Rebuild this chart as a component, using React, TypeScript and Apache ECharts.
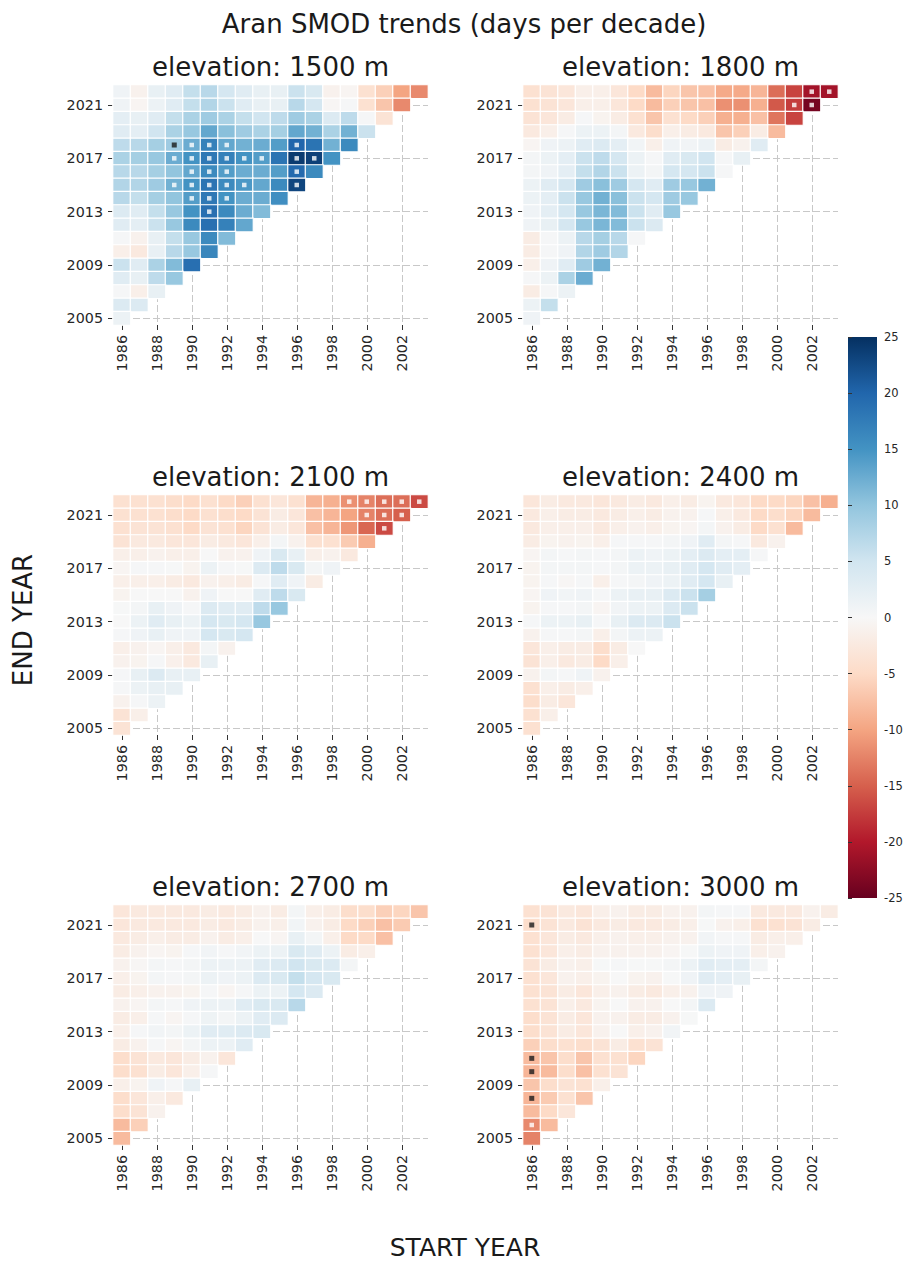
import React, { useEffect, useRef } from 'react';
import * as echarts from 'echarts';

const START_YEARS = ['1986', '1987', '1988', '1989', '1990', '1991', '1992', '1993', '1994', '1995', '1996', '1997', '1998', '1999', '2000', '2001', '2002', '2003'];
const END_YEARS = ['2005', '2006', '2007', '2008', '2009', '2010', '2011', '2012', '2013', '2014', '2015', '2016', '2017', '2018', '2019', '2020', '2021', '2022'];
const ELEVATIONS = ['1500', '1800', '2100', '2400', '2700', '3000'];

// Rows: end year 2022 (top) down to 2005; each row starts at 1986
const smod1500 = [
  [1, -1, 2, 3, 6, 7, 4.5, 3, 2, 2, 5.5, 4, -1, -0.5, -4, -6, -10, -12],
  [1, -0.5, 1.5, 3, 6, 7.5, 5.5, 3, 2, 2, 7, 4.5, -0.3, 0.2, -4, -7, -12],
  [2.5, 2, 3, 6, 8, 9, 8, 6, 5, 6.5, 9, 8, 3.5, 6.5, 0.3, -3.5],
  [3, 2.5, 5, 8, 9.5, 13, 10.5, 9, 8, 8.5, 13, 12, 8, 12, 5.5],
  [6.5, 7, 8.5, 9, 12.5, 17, 13, 12, 12.5, 14, 20, 18.5, 12, 16],
  [8, 8.5, 9.5, 12.5, 15, 18, 17, 15, 14, 18.5, 24, 23.5, 15],
  [7, 7, 8.5, 10, 13, 16, 14, 12.5, 12.5, 14, 19.5, 16],
  [7.5, 7.5, 9, 12, 15, 18.5, 16, 14.5, 13, 16, 23],
  [7, 6, 8.5, 10, 14, 18, 15, 12.5, 12.5, 15.5],
  [3.5, 3, 6, 9.5, 15, 19, 16, 12.5, 11],
  [3, 2.5, 5.5, 9.5, 16, 19, 17, 13],
  [0.3, -1, 2, 6, 9.5, 16, 11],
  [-1.5, -2.5, 2, 7, 9.5, 16.5],
  [5.5, 3, 8, 11, 19],
  [3, 2, 6.5, 9.5],
  [0.3, -1.5, 2],
  [3.5, 3.5],
  [1.5],
];

const smod1800 = [
  [-4, -3.5, -3, -1.5, -1.5, -3, -5, -8, -5.5, -7, -7.5, -9.5, -9.5, -8.5, -14, -17, -21, -21],
  [-4, -3.5, -3, -1.5, -1.5, -3, -5, -8, -6, -7, -7.5, -11.5, -11.5, -9, -15.5, -17.5, -24],
  [-3.5, -3, -2, 0.3, -0.8, -2, -4, -7, -4, -5, -6, -9, -9, -7.5, -13.5, -17],
  [-2.5, -1.5, 0.3, 1.5, 1.5, 0.5, -2.5, -4.5, -1.5, -2, -2.5, -7, -6, -2, -8],
  [-0.5, 1, 1.5, 3, 3.5, 2.5, 0.8, -1.5, 1, 0.8, 1.5, -2, -1, 3],
  [0.5, 1.5, 2.5, 5.5, 6.5, 4.5, 1.5, 0.3, 3, 4, 5, 0.2, 2],
  [0.5, 1, 2.5, 6, 7.5, 5.5, 1.5, 0.5, 4.5, 4.5, 5.5, 0.2],
  [1.5, 3, 4.5, 9, 10.5, 9, 4.5, 3, 9, 9.5, 12],
  [1.5, 2.5, 5.5, 9.5, 12, 10.5, 5.5, 4.5, 9, 9.5],
  [1, 2.5, 4.5, 9.5, 11.5, 11, 5.5, 3, 9.5],
  [1, 2, 4.5, 9.5, 11.5, 11, 5.5, 3.5],
  [-2, 0.3, 1.5, 7, 8.5, 7, 0.3],
  [-2, 0.3, 1, 7.5, 9, 7.5],
  [-1.5, 1, 3, 9, 12],
  [0.2, 1.5, 8, 12.5],
  [-2, 0.2, 1.5],
  [1.5, 6],
  [1],
];

const smod2100 = [
  [-4, -4, -4, -4.5, -5, -4, -5, -6, -4, -3, -4, -8.5, -9, -11.5, -12.5, -14, -14, -16.5],
  [-4, -4, -4, -4.5, -5, -4, -4.5, -5, -3.5, -2, -3, -7.5, -8.5, -10, -12.5, -14, -15],
  [-4, -3.5, -3.5, -4, -5, -3.5, -4, -5.5, -3.5, -2, -3, -7.5, -8.5, -11, -14.5, -16.5],
  [-3.5, -2.5, -2.5, -3, -3, -2, -2.5, -3, -1.5, 0.5, -1, -4, -4, -6.5, -9],
  [-1.5, -1.5, -1, -1.5, -1.5, 0, -1, -1, 1, 4, 2, -1.5, -1, -2.5],
  [-0.5, 0.2, 0.2, 0.1, -0.8, 1.5, 0.2, 0.1, 3.5, 6.5, 4, 0.5, 1],
  [-1.5, -1.5, -1.5, -2, -2.5, -1, -1.5, -2, 0.2, 3, 1, -2],
  [-0.8, 0, 0, 0, -1, 1, 0, 0, 3, 6.5, 4],
  [0.1, 0.5, 2, 1, 0.2, 3.5, 3, 3, 6.5, 9.5],
  [0, 1.5, 3, 2, 1.5, 4.5, 4, 4.5, 9.5],
  [0.2, 1, 2, 1, 1, 4.5, 4, 4.5],
  [-1.5, -1, -0.5, -1.5, -2.5, 0.5, -1],
  [-1, -0.8, 0.2, -1.3, -2.5, 2],
  [0.2, 2, 3.5, 2, 2],
  [0.3, 1.5, 2, 2],
  [-1, 0.3, 1.5],
  [-3.5, -1.5],
  [-3.5],
];

const smod2400 = [
  [-3, -2, -2.5, -2.5, -3, -2.5, -2, -2.5, -1.5, -2, -0.8, -2.5, -3, -5, -5, -5.5, -7.5, -9],
  [-2.5, -1.5, -2, -2, -2.5, -2, -1.5, -2, -1, -1, 0.2, -1.5, -2.5, -5, -4.5, -5.5, -8],
  [-2.5, -1.5, -1.5, -1.5, -2.5, -1.5, -1, -1.5, -0.8, -0.5, 0.5, -1, -2, -5, -4, -8],
  [-2, -0.8, -1, -0.8, -1.5, 0.2, 0.2, 0.2, 0.5, 1, 3, 0.5, 0.3, -2.5, -1],
  [-0.5, 0.5, 0.3, 0.5, 0.2, 0.5, 1.5, 1, 1.5, 2.5, 3.5, 2.5, 2.5, 0.2],
  [-0.8, 0.5, 0.5, 0.5, 0.3, 0.5, 1.5, 1.5, 2, 3, 4.5, 3, 2.5],
  [-0.8, 0.2, -0.3, 0.2, -1.5, 0.2, 0.5, 1, 1.5, 3, 4.5, 2],
  [-0.5, 1, 0.8, 1, 0.2, 1.5, 2, 2, 3.5, 5.5, 8.5],
  [-0.8, 0.3, 0.3, 0.5, -0.5, 0.8, 1.5, 1.5, 3.5, 5.5],
  [0.2, 1.5, 1.5, 2, 0.2, 2, 3.5, 3.5, 5.5],
  [-1, 0.3, 0.3, 0.5, -1.5, 0.5, 1.5, 1.5],
  [-3, -1.5, -2, -2, -4.5, -2, 0],
  [-3.5, -1.5, -2.5, -2, -5, -1.5],
  [-1, 0.5, 0.2, 1, -1],
  [-4, -1.5, -2, -1.5],
  [-4.5, -2, -3],
  [-4, -1.5],
  [-4],
];

const smod2700 = [
  [-3, -2.5, -2.5, -2.5, -2.5, -2, -2.5, -2, -1, -2, 0.5, -1.5, -2, -4.5, -4.5, -6, -5.5, -7],
  [-3, -2.5, -2.5, -2.5, -2.5, -2, -2.5, -2, -1, -1.5, 0.8, -1, -2, -5, -6, -7.5, -6.5],
  [-2.5, -2, -1.5, -2, -2, -1, -2, -1.5, 0, -0.5, 2, 0.5, -1.5, -5, -5, -7.5],
  [-2, -1, -0.5, -0.8, 0.2, 0.8, 0.2, 0.8, 1.5, 1.5, 4, 3, 1.5, -2, -1.5],
  [-1, -0.3, 0.5, 0.2, 0.5, 1.5, 1.5, 1.5, 3, 3.5, 5, 4, 3.5, 0.5],
  [-1.5, -0.8, 0.5, 0.2, 0.5, 1.5, 1, 1.5, 3.5, 4, 6, 4.5, 4],
  [-2, -1.5, -1, -1, -0.8, 0.3, -0.5, 0.3, 1.5, 1.5, 4.5, 3.5],
  [-1, -0.5, 0.5, 0.2, 1, 1.5, 1.5, 3, 4, 4, 7],
  [-2, -1.5, 0.2, -0.5, 0.2, 1.2, 0.5, 1.5, 3, 3.5],
  [-1.5, 0.2, 0.8, 0.5, 1.5, 3, 3, 3.5, 4],
  [-2, -1, 0.2, -0.5, 0.5, 1.5, 1.5, 3],
  [-4.5, -3.5, -2.5, -3, -2, -1, -3],
  [-4.5, -4, -2, -3, -1.5, 0.2],
  [-1.5, -0.8, 1, 0.3, 2],
  [-4.5, -3, -1.5, -2.5],
  [-4.5, -3.5, -1],
  [-8, -6],
  [-8],
];

const smod3000 = [
  [-4, -3.5, -2.5, -3, -1.5, -1, -2, -2, -1, -1, 0.5, 0.2, 0.2, -2.5, -2.5, -2.5, -1, -2],
  [-4.5, -3.5, -2.5, -3.5, -2.5, -2, -2.5, -2.5, -2, -1.5, 0.1, -1, -1.5, -4, -4, -3.5, -2],
  [-4, -3, -2, -2.5, -1.5, -1, -1.5, -1.5, -1, -1, 0.8, 0.3, 0.2, -2, -1.5, -1.5],
  [-4, -3, -1.5, -2, -1, -1, -1, -1, -0.5, 0.1, 1.5, 1, 1, -1.5, -1],
  [-3.5, -2, -1, -1.5, 0.1, 0.2, 0.1, 0.1, 0.5, 1.5, 3, 2.5, 2.5, 0.5],
  [-4, -3, -1, -1.5, -0.8, 0, -0.8, -1, 0.1, 1, 3, 2.5, 2],
  [-4, -3.5, -2, -3, -1.5, -1, -2, -2.5, -1.5, -1, 1, 1],
  [-4, -3.5, -1.5, -2.5, -0.8, 0, -1, -1, 0, 0.5, 3.5],
  [-4.5, -3.5, -2, -3, -1, -1, -2, -2, -1, 0.1],
  [-4.5, -3.5, -2, -3, -1, 0, -1.5, -1, 0.8],
  [-6, -4.5, -4, -4.5, -3.5, -2, -4, -3.5],
  [-8, -7, -4.5, -7, -4, -4, -5.5],
  [-8.5, -8, -4.5, -7.5, -4, -3.5],
  [-7, -4.5, -3.5, -4, -1.5],
  [-8.5, -6.5, -4, -7],
  [-8, -5, -3],
  [-12, -8],
  [-12.5],
];

// Significance markers: [start year, end year]
const sigWhite1500 = [
  [1990, 2018], [1991, 2018], [1992, 2018], [1996, 2018],
  [1989, 2017], [1990, 2017], [1991, 2017], [1992, 2017], [1993, 2017], [1994, 2017], [1996, 2017], [1997, 2017],
  [1990, 2016], [1991, 2016], [1992, 2016], [1996, 2016],
  [1989, 2015], [1990, 2015], [1991, 2015], [1992, 2015], [1993, 2015], [1996, 2015],
  [1990, 2014], [1991, 2014], [1992, 2014],
  [1991, 2013],
];
const sigBlack1500 = [[1989, 2018]];
const sigWhite1800 = [[2002, 2022], [2003, 2022], [2001, 2021], [2002, 2021]];
const sigBlack1800: number[][] = [];
const sigWhite2100 = [[1999, 2022], [2000, 2022], [2001, 2022], [2002, 2022], [2003, 2022], [2000, 2021], [2001, 2021], [2002, 2021], [2001, 2020]];
const sigBlack2100: number[][] = [];
const sigWhite2400: number[][] = [];
const sigBlack2400: number[][] = [];
const sigWhite2700: number[][] = [];
const sigBlack2700: number[][] = [];
const sigWhite3000 = [[1986, 2006]];
const sigBlack3000 = [[1986, 2021], [1986, 2011], [1986, 2010], [1986, 2008]];

const PANELS = [smod1500, smod1800, smod2100, smod2400, smod2700, smod3000];
const SIG_WHITE = [sigWhite1500, sigWhite1800, sigWhite2100, sigWhite2400, sigWhite2700, sigWhite3000];
const SIG_BLACK = [sigBlack1500, sigBlack1800, sigBlack2100, sigBlack2400, sigBlack2700, sigBlack3000];

const RDBU = ['#67001f', '#b2182b', '#d6604d', '#f4a582', '#fddbc7', '#f7f7f7', '#d1e5f0', '#92c5de', '#4393c3', '#2166ac', '#053061'];

const FONT = 'DejaVu Sans';
const GRID_LEFTS = [113, 523];
const GRID_TOPS = [85, 495, 905];
const GRID_W = 315;
const GRID_H = 240;

function toHeat(rows: number[][]) {
  const out: any[] = [];
  rows.forEach((row, r) => {
    const endYear = String(2022 - r);
    const yi = END_YEARS.indexOf(endYear);
    row.forEach((v, c) => out.push([c, yi, v]));
  });
  return out;
}

function toSig(list: number[][]) {
  return list.map(([s, e]) => [START_YEARS.indexOf(String(s)), END_YEARS.indexOf(String(e))]);
}

export default function App() {
  const ref = useRef<HTMLDivElement>(null);
  useEffect(() => {
    if (!ref.current) return;
    const chart = echarts.init(ref.current, null, { renderer: 'svg' });
    const grids: any[] = [];
    const xAxes: any[] = [];
    const yAxes: any[] = [];
    const series: any[] = [];
    const graphics: any[] = [];
    const heatIdx: number[] = [];

    PANELS.forEach((_, i) => {
      const left = GRID_LEFTS[i % 2];
      const top = GRID_TOPS[Math.floor(i / 2)];
      grids.push({ left, top, width: GRID_W, height: GRID_H, containLabel: false });
      xAxes.push({
        type: 'category', gridIndex: i, data: START_YEARS, position: 'bottom',
        axisLine: { show: false },
        axisTick: { show: true, interval: 1, alignWithLabel: true, length: 5, lineStyle: { color: '#333' } },
        axisLabel: { interval: 1, rotate: 90, fontSize: 14.3, fontFamily: FONT, color: '#262626', margin: 10 },
        splitLine: { show: true, interval: 1, alignWithLabel: true, lineStyle: { color: '#c8c8c8', type: [7, 3], width: 1 } },
      });
      yAxes.push({
        type: 'category', gridIndex: i, data: END_YEARS,
        axisLine: { show: false },
        axisTick: { show: true, interval: 3, alignWithLabel: true, length: 5, lineStyle: { color: '#333' } },
        axisLabel: { interval: 3, fontSize: 14.3, fontFamily: FONT, color: '#262626', margin: 10 },
        splitLine: { show: true, interval: 3, alignWithLabel: true, lineStyle: { color: '#c8c8c8', type: [7, 3], width: 1 } },
      });
      graphics.push({
        type: 'text', x: left + GRID_W / 2, y: top - 18,
        style: { text: 'elevation: ' + ELEVATIONS[i] + ' m', font: '26px "DejaVu Sans"', fill: '#1a1a1a', align: 'center', verticalAlign: 'middle' },
      });
    });

    PANELS.forEach((rows, i) => {
      heatIdx.push(series.length);
      series.push({
        type: 'heatmap', xAxisIndex: i, yAxisIndex: i, data: toHeat(rows),
        itemStyle: { borderColor: '#ffffff', borderWidth: 1.2 },
        emphasis: { disabled: true }, z: 2,
      });
    });
    PANELS.forEach((_, i) => {
      series.push({
        type: 'scatter', xAxisIndex: i, yAxisIndex: i, data: toSig(SIG_WHITE[i]),
        symbol: 'rect', symbolSize: 4.5, itemStyle: { color: '#ffffff' }, z: 5, silent: true,
      });
      series.push({
        type: 'scatter', xAxisIndex: i, yAxisIndex: i, data: toSig(SIG_BLACK[i]),
        symbol: 'rect', symbolSize: 5, itemStyle: { color: '#1a1a1a' }, z: 5, silent: true,
      });
    });

    // colorbar
    grids.push({
      left: 848, top: 337, width: 29, height: 561, show: true, borderWidth: 0,
      backgroundColor: {
        type: 'linear', x: 0, y: 0, x2: 0, y2: 1,
        colorStops: RDBU.slice().reverse().map((c, k) => ({ offset: k / (RDBU.length - 1), color: c })),
      },
    });
    xAxes.push({ type: 'value', gridIndex: 6, show: false, min: 0, max: 1 });
    yAxes.push({
      type: 'value', gridIndex: 6, position: 'right', min: -25, max: 25, interval: 5,
      axisLine: { show: false },
      axisTick: { show: true, length: 4, lineStyle: { color: '#333' } },
      axisLabel: { fontSize: 11.5, fontFamily: FONT, color: '#262626', margin: 7 },
      splitLine: { show: false },
    });
    series.push({ type: 'scatter', xAxisIndex: 6, yAxisIndex: 6, data: [], silent: true });

    graphics.push({
      type: 'text', x: 464, y: 24,
      style: { text: 'Aran SMOD trends (days per decade)', font: '26px "DejaVu Sans"', fill: '#1a1a1a', align: 'center', verticalAlign: 'middle' },
    });
    graphics.push({
      type: 'text', x: 23, y: 620, rotation: Math.PI / 2,
      style: { text: 'END YEAR', font: '26px "DejaVu Sans"', fill: '#1a1a1a', align: 'center', verticalAlign: 'middle' },
    });
    graphics.push({
      type: 'text', x: 465, y: 1247,
      style: { text: 'START YEAR', font: '25px "DejaVu Sans"', fill: '#1a1a1a', align: 'center', verticalAlign: 'middle' },
    });

    chart.setOption({
      animation: false,
      backgroundColor: '#ffffff',
      grid: grids,
      xAxis: xAxes,
      yAxis: yAxes,
      visualMap: {
        type: 'continuous', show: false, min: -25, max: 25, dimension: 2,
        seriesIndex: heatIdx, inRange: { color: RDBU },
      },
      graphic: graphics,
      series,
    });
    return () => chart.dispose();
  }, []);
  return <div ref={ref} style={{ position: 'absolute', left: 0, top: 0, width: 908, height: 1262 }} />;
}
